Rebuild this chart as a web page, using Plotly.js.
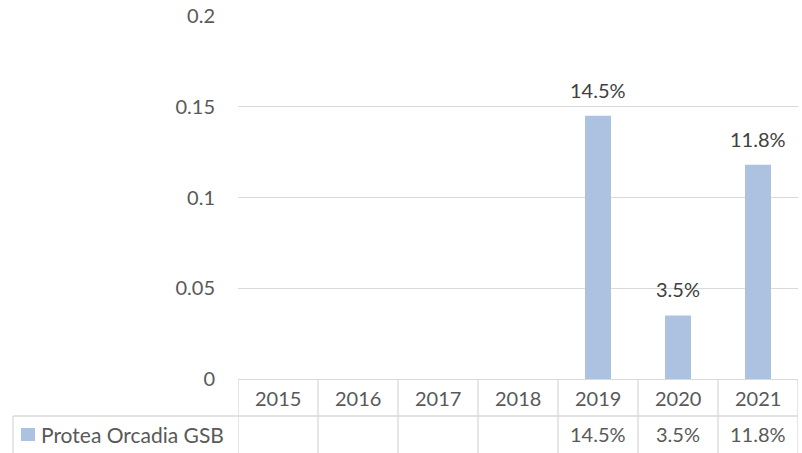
<!DOCTYPE html>
<html>
<head>
<meta charset="utf-8">
<script src="https://cdn.plot.ly/plotly-3.0.1.min.js"></script>
<style>html,body{margin:0;padding:0;background:#fff;}#chart{width:802px;height:453px;}</style>
</head>
<body>
<div id="chart"></div>
<script>
const categories = ['2015','2016','2017','2018','2019','2020','2021'];
const seriesName = 'Protea Orcadia GSB';
const values = [null, null, null, null, 0.145, 0.035, 0.118];
const yTicks = [0, 0.05, 0.1, 0.15, 0.2];

const FONT = 'Lato, Roboto, sans-serif';
const TXT = '#595959';
const LINE = '#d9d9d9';
const BAR = '#adc2e1';

const fmt = v => (v === null ? '' : (v * 100).toFixed(1) + '%');

const annotations = [];
const shapes = [];

// data labels above bars (category axis: position by index)
values.forEach((v, i) => {
  if (v === null) return;
  annotations.push({x: i, y: v, xref: 'x', yref: 'y', text: fmt(v), showarrow: false,
    yanchor: 'middle', yshift: 26, font: {family: FONT, size: 20, color: '#404040'}});
});

// table header row (categories) and value row
categories.forEach((c, i) => {
  annotations.push({x: i, y: 0, xref: 'x', yref: 'paper', text: c, showarrow: false,
    yanchor: 'middle', yshift: -19, font: {family: FONT, size: 20, color: TXT}});
  if (values[i] !== null) {
    annotations.push({x: i, y: 0, xref: 'x', yref: 'paper', text: fmt(values[i]), showarrow: false,
      yanchor: 'middle', yshift: -55, font: {family: FONT, size: 20, color: TXT}});
  }
});
// legend cell
annotations.push({x: 0, y: 0, xref: 'paper', yref: 'paper', text: seriesName, showarrow: false,
  xanchor: 'left', xshift: -199, yanchor: 'middle', yshift: -55, font: {family: FONT, size: 21, color: TXT}});
shapes.push({type: 'rect', xref: 'paper', yref: 'paper', xsizemode: 'pixel', ysizemode: 'pixel',
  xanchor: 0, yanchor: 0, x0: -217, x1: -203, y0: -62, y1: -49, fillcolor: BAR, line: {width: 0}});

// table grid lines
for (let k = 0; k <= categories.length; k++) {
  shapes.push({type: 'line', xref: 'x', yref: 'paper', ysizemode: 'pixel', yanchor: 0,
    x0: k - 0.5, x1: k - 0.5, y0: -80, y1: 0, line: {color: LINE, width: 1.3}});
}
shapes.push({type: 'line', xref: 'paper', yref: 'paper', xsizemode: 'pixel', ysizemode: 'pixel',
  xanchor: 0, yanchor: 0, x0: -225, x1: 560, y0: -37, y1: -37, line: {color: LINE, width: 1.3}});
shapes.push({type: 'line', xref: 'paper', yref: 'paper', xsizemode: 'pixel', ysizemode: 'pixel',
  xanchor: 0, yanchor: 0, x0: -225, x1: -225, y0: -80, y1: -37, line: {color: LINE, width: 1.3}});

const data = [{
  type: 'bar', x: categories, y: values, name: seriesName,
  marker: {color: BAR, line: {width: 0}}, width: 0.325, hoverinfo: 'x+y'
}];

const layout = {
  width: 802, height: 453,
  margin: {l: 238, r: 4, t: 16, b: 74},
  paper_bgcolor: '#ffffff', plot_bgcolor: '#ffffff',
  showlegend: false,
  font: {family: FONT, size: 20, color: TXT},
  xaxis: {type: 'category', categoryorder: 'array', categoryarray: categories,
    range: [-0.5, categories.length - 0.5], showticklabels: false, ticks: '',
    showgrid: false, zeroline: false, showline: true, linecolor: LINE, linewidth: 1.3, fixedrange: true},
  yaxis: {range: [0, 0.2], tickvals: yTicks, showgrid: true, gridcolor: LINE, gridwidth: 1.3,
    zeroline: false, showline: false, ticks: '', ticklabelstandoff: 22,
    tickfont: {family: FONT, size: 20, color: TXT}, fixedrange: true},
  annotations: annotations,
  shapes: shapes
};

Plotly.newPlot('chart', data, layout, {displayModeBar: false, staticPlot: true});
</script>
</body>
</html>
